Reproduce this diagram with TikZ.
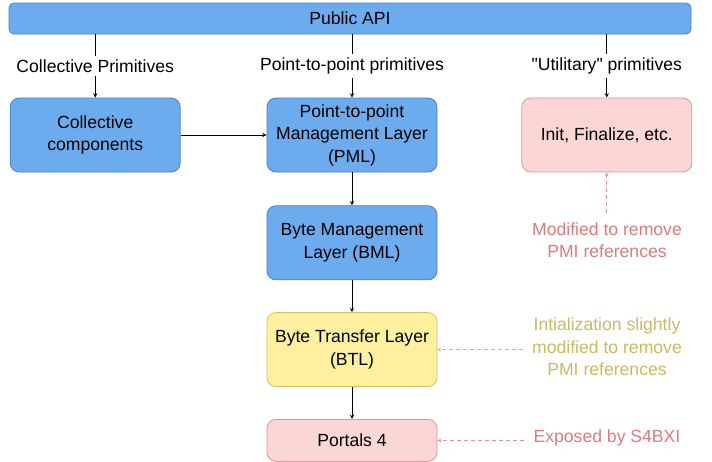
\documentclass[tikz,border=0pt]{standalone}
\usepackage{fontspec}
\setmainfont{Liberation Sans}[Ligatures=TeXOff]
\usetikzlibrary{arrows, positioning}

\definecolor{apiblue}{RGB}{108,172,238}
\definecolor{apiedge}{RGB}{76,126,188}
\definecolor{pinkfill}{RGB}{250,214,212}
\definecolor{pinkedge}{RGB}{226,148,148}
\definecolor{pinktext}{RGB}{222,122,122}
\definecolor{yellowfill}{RGB}{255,240,160}
\definecolor{yellowedge}{RGB}{214,190,100}
\definecolor{yellowtext}{RGB}{202,186,96}

\begin{document}
\begin{tikzpicture}[
            > = stealth, % arrow head style
            x = 1pt, y = -1pt, % pixel grid, y going down
            node distance = 32pt, % distance between layers
            line width = 0.95pt, % line style
            font = \fontsize{17.6}{22.5}\selectfont
        ]

        \tikzstyle{layer}=[
            draw,
            line width = 0.8pt,
            rounded corners = 9pt,
            minimum width = 170pt,
            minimum height = 74pt,
            align = center
        ]
        \tikzstyle{blue layer}=[layer, fill = apiblue, draw = apiedge]
        \tikzstyle{pink layer}=[layer, fill = pinkfill, draw = pinkedge]
        \tikzstyle{yellow layer}=[layer, fill = yellowfill, draw = yellowedge]
        \tikzstyle{note}=[align = center, inner sep = 9pt]
        \tikzstyle{hint}=[->, dashed, line width = 0.8pt, dash pattern = on 4pt off 3pt]

        \useasboundingbox (0,0) rectangle (712,461);

        \node[blue layer, minimum width = 682pt, minimum height = 31pt, rounded corners = 5pt] (api) at (350,18.5) {Public API};
        \node[blue layer] (pml) at (352,135) {Point-to-point\\Management Layer\\(PML)};
        \node[blue layer] (coll) [left=86pt of pml] {Collective\\components};
        \node[pink layer] (init) [right=84pt of pml] {Init, Finalize, etc.};
        \node[blue layer] (bml) [below=33pt of pml] {Byte Management\\Layer (BML)};
        \node[yellow layer] (btl) [below=of bml] {Byte Transfer Layer\\(BTL)};
        \node[pink layer, minimum height = 42pt] (portals) [below=of btl] {Portals 4};

        \node[note, text = pinktext] (initnote) at (607,240) {Modified to remove\\PMI references};
        \node[note, text = yellowtext] (btlnote) at (607,347) {Intialization slightly\\modified to remove\\PMI references};
        \node[note, text = pinktext] (portalsnote) at (607,438) {Exposed by S4BXI};

        \draw[->] (api.south -| coll) -- node[fill = white] {Collective Primitives} (coll);
        \draw[->] (api.south -| pml) -- node[fill = white] {Point-to-point primitives} (pml);
        \draw[->] (api.south -| init) -- node[fill = white] {"Utilitary" primitives} (init);

        \draw[->] (coll) -- (pml);
        \draw[->] (pml) -- (bml);
        \draw[->] (bml) -- (btl);
        \draw[->] (btl) -- (portals);

        \draw[hint, pinkedge] (initnote.north -| init) -- (init);
        \draw[hint, yellowedge] (btlnote.west |- btl) -- (btl);
        \draw[hint, pinkedge] (portalsnote.west |- portals) -- (portals);

  \end{tikzpicture}
\end{document}
